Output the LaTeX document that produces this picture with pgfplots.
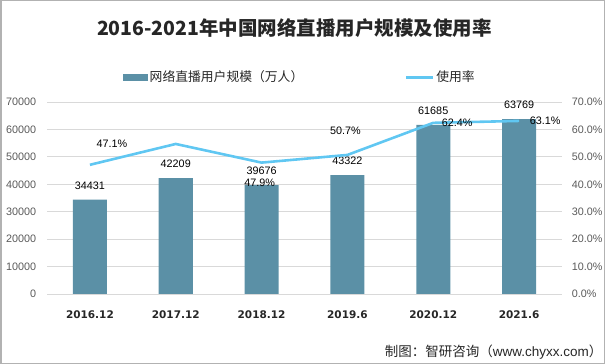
\documentclass[border=0pt]{standalone}
\usepackage{pgfplots}
\pgfplotsset{compat=1.18}
\usepackage{pgfplotstable}
\usepackage{fontspec}
\setmainfont{Liberation Sans}
\newfontfamily\cjk{Noto Sans CJK SC}
\newfontfamily\dejab{DejaVu Sans}
\definecolor{barc}{RGB}{91,144,166}
\definecolor{linec}{RGB}{96,199,242}
\definecolor{gridc}{RGB}{217,217,217}
\definecolor{tickc}{RGB}{89,89,89}
\definecolor{txtc}{RGB}{38,38,38}

\pgfplotstableread{
x y
0 34431
1 42209
2 39676
3 43322
4 61685
5 63769
}\bars

\pgfplotstableread{
x y
0 47.1
1 54.7
2 47.9
3 50.7
4 62.4
5 63.1
}\rate

\pgfplotsset{
  ratelab/.style 2 args={draw=none, mark=none, point meta=explicit symbolic,
    nodes near coords={\pgfplotspointmeta\%},
    every node near coord/.append style={anchor=center, xshift=#1, yshift=#2, text=black, font=\fontsize{10.8bp}{13bp}\selectfont}},
}

\begin{document}
\begin{tikzpicture}
\path[use as bounding box] (0,0) rectangle (605bp,364bp);
\draw[color=gray!60, line width=1.5bp] (0.75bp,0.75bp) rectangle (604.25bp,363.25bp);
\node[text=txtc, font=\cjk\bfseries\fontsize{19.5bp}{23bp}\selectfont] at (294.5bp,336bp) {2016-2021年中国网络直播用户规模及使用率};

\begin{axis}[
  at={(47bp,70bp)}, anchor=south west,
  scale only axis, width=515bp, height=192bp,
  xmin=-0.5, xmax=5.5, ymin=0, ymax=70000,
  ytick={0,10000,...,70000},
  xtick={0,1,2,3,4,5},
  xticklabels={2016.12,2017.12,2018.12,2019.6,2020.12,2021.6},
  /pgf/number format/assume math mode=true,
  /pgf/number format/1000 sep={},
  scaled y ticks=false,
  axis line style={draw=none},
  major tick length=0pt,
  ymajorgrids, grid style={gridc, line width=0.8bp},
  xticklabel style={font=\dejab\bfseries\fontsize{10.5bp}{12bp}\selectfont, text=txtc, yshift=-13.5bp},
  yticklabel style={font=\fontsize{10.8bp}{13bp}\selectfont, text=tickc, xshift=-7.4bp},
  legend columns=2,
  legend style={at={(0.1476,1.130)}, anchor=west, draw=none, fill=none, inner sep=0pt,
    font=\cjk\fontsize{12.8bp}{15bp}\selectfont, text=txtc,
    nodes={inner sep=1.5bp},
    /tikz/every even column/.append style={column sep=100bp}},
  legend cell align=left,
]
\addplot[ybar, bar width=34bp, fill=barc, draw=none,
  point meta=explicit symbolic,
  nodes near coords,
  every node near coord/.append style={anchor=center, yshift=14bp, text=black, font=\fontsize{10.8bp}{13bp}\selectfont},
  legend image code/.code={\fill[barc] (0bp,-3.5bp) rectangle (25bp,3.5bp);}
] table[x=x, y=y, meta=y] {\bars};
\addlegendentry{网络直播用户规模（万人）}
\addlegendimage{linec, line width=3bp, legend image code/.code={\draw[linec, line width=3bp] (0bp,0bp) -- (27bp,0bp);}}
\addlegendentry{使用率}
\end{axis}

\begin{axis}[
  at={(47bp,70bp)}, anchor=south west,
  scale only axis, width=515bp, height=192bp,
  xmin=-0.5, xmax=5.5, ymin=0, ymax=70,
  axis y line*=right, axis x line=none,
  ytick={0,10,...,70},
  yticklabel={\pgfmathprintnumber[fixed,fixed zerofill,precision=1]{\tick}\%},
  /pgf/number format/assume math mode=true,
  axis line style={draw=none},
  major tick length=0pt,
  yticklabel style={font=\fontsize{10.8bp}{13bp}\selectfont, text=tickc, xshift=6.4bp},
]
\addplot[linec, line width=2.6bp, mark=none] table[x=x, y=y] {\rate};
\addplot[ratelab={22bp}{21bp}] coordinates {(0,47.1) [47.1]};
\addplot[ratelab={-2bp}{-20bp}] coordinates {(2,47.9) [47.9]};
\addplot[ratelab={-2bp}{24bp}] coordinates {(3,50.7) [50.7]};
\addplot[ratelab={24bp}{0bp}] coordinates {(4,62.4) [62.4]};
\addplot[ratelab={26bp}{0bp}] coordinates {(5,63.1) [63.1]};
\end{axis}

\node[anchor=east, text=txtc, font=\fontsize{13.5bp}{15bp}\selectfont] at (606bp,12bp) {{\cjk 制图：智研咨询（}www.chyxx.com{\cjk ）}};
\end{tikzpicture}
\end{document}
